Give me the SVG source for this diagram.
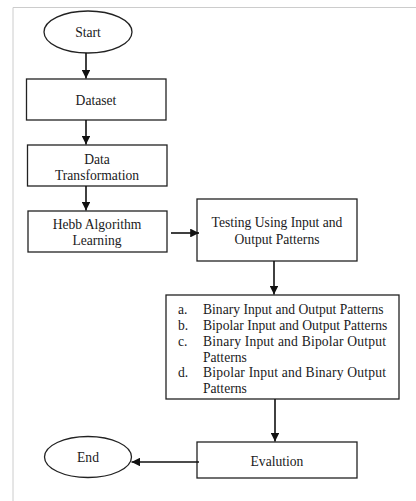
<svg xmlns="http://www.w3.org/2000/svg" width="416" height="501" viewBox="0 0 416 501">
<defs>
<style>
.n{fill:#fff;stroke:#222;stroke-width:1.3}
.t{font-family:"Liberation Serif","Times New Roman",serif;font-size:13.6px;fill:#1a1a22;text-anchor:middle}
.l{font-family:"Liberation Serif","Times New Roman",serif;font-size:13.6px;fill:#1a1a22}
.c{stroke:#111;stroke-width:1.6;fill:none;marker-end:url(#ah)}
</style>
<marker id="ah" viewBox="0 0 10 10" refX="10" refY="5" markerWidth="5.5" markerHeight="5.5" markerUnits="strokeWidth" orient="auto">
<path d="M0,0 L10,5 L0,10 z" fill="#111"/>
</marker>
</defs>
<rect width="416" height="501" fill="#fff"/>
<path d="M13,501 V7.5 H416" fill="none" stroke="#ccc" stroke-width="1"/>
<g id="start"><ellipse class="n" cx="88" cy="32" rx="44" ry="21"/><text class="t" x="88" y="36.5">Start</text></g>
<g id="dataset"><rect class="n" x="26.5" y="79" width="139.5" height="41"/><text class="t" x="96" y="104.5">Dataset</text></g>
<g id="transform"><rect class="n" x="27.5" y="145" width="139.5" height="41"/><text class="t" x="97" y="164">Data</text><text class="t" x="97" y="179.5">Transformation</text></g>
<g id="hebb"><rect class="n" x="28" y="211" width="139" height="41"/><text class="t" x="97" y="228.5">Hebb Algorithm</text><text class="t" x="97" y="244.5">Learning</text></g>
<g id="testing"><rect class="n" x="197" y="199" width="160" height="62"/><text class="t" x="277" y="226.5">Testing Using Input and</text><text class="t" x="277" y="243.5">Output Patterns</text></g>
<g id="patterns"><rect class="n" x="166" y="295" width="233" height="104"/>
<text class="l" x="178" y="313.5">a.</text><text class="l" x="203" y="313.5">Binary Input and Output Patterns</text>
<text class="l" x="178" y="329.5">b.</text><text class="l" x="203" y="329.5">Bipolar Input and Output Patterns</text>
<text class="l" x="178" y="345.5">c.</text><text class="l" x="203" y="345.5" textLength="183" lengthAdjust="spacing">Binary Input and Bipolar Output</text>
<text class="l" x="203" y="361.5">Patterns</text>
<text class="l" x="178" y="376.5">d.</text><text class="l" x="203" y="376.5" textLength="183" lengthAdjust="spacing">Bipolar Input and Binary Output</text>
<text class="l" x="203" y="392.5">Patterns</text>
</g>
<g id="evaluation"><rect class="n" x="197" y="442" width="160" height="36"/><text class="t" x="277" y="465.5">Evalution</text></g>
<g id="end"><ellipse class="n" cx="88" cy="457" rx="43.5" ry="20.5"/><text class="t" x="88" y="461.5">End</text></g>
<g id="connectors">
<line class="c" x1="86" y1="53" x2="86" y2="78.5"/>
<line class="c" x1="86" y1="120" x2="86" y2="144.5"/>
<line class="c" x1="86" y1="186" x2="86" y2="210.5"/>
<line class="c" x1="171" y1="233" x2="199" y2="233"/>
<line class="c" x1="274" y1="261" x2="274" y2="294.5"/>
<line class="c" x1="275" y1="399" x2="275" y2="441.5"/>
<line class="c" x1="199" y1="462" x2="131.5" y2="462"/>
</g>
</svg>
